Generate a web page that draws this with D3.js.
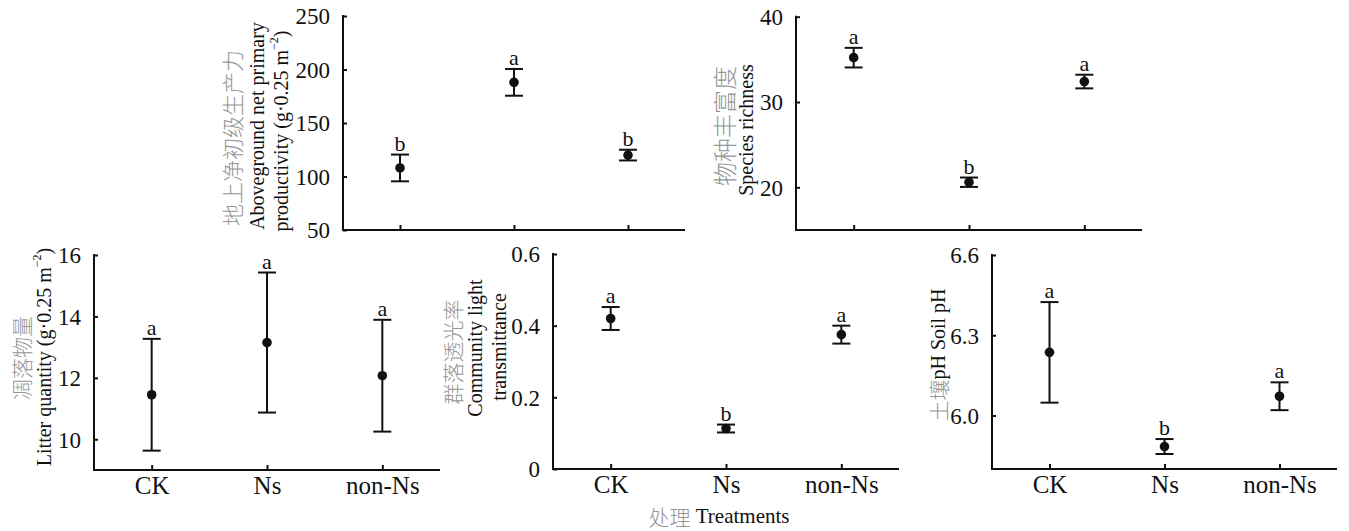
<!DOCTYPE html>
<html><head><meta charset="utf-8">
<script src="https://cdn.jsdelivr.net/npm/d3@7"></script>
<style>
html,body{margin:0;padding:0;background:#fff;}
svg{display:block;}
text{font-family:"Liberation Serif","Times New Roman","DejaVu Serif",serif;fill:#111;}
.cn{font-family:"Noto Sans CJK SC",sans-serif;fill:#959595;font-weight:300;}
</style></head>
<body>
<svg id="chart" width="1349" height="531"></svg>
<script>
// ---- data ----
const categories = ["CK", "Ns", "non-Ns"];

const anppMean = [108, 188, 120];
const anppErr = [12.5, 12.5, 5];
const anppLetters = ["b", "a", "b"];
const anppTicks = [50, 100, 150, 200, 250];

const richMean = [35.2, 20.6, 32.4];
const richErr = [1.15, 0.55, 0.8];
const richLetters = ["a", "b", "a"];
const richTicks = [20, 30, 40];

const litterMean = [11.45, 13.15, 12.07];
const litterErr = [1.82, 2.28, 1.82];
const litterLetters = ["a", "a", "a"];
const litterTicks = [10, 12, 14, 16];

const lightMean = [0.42, 0.113, 0.375];
const lightErr = [0.032, 0.011, 0.025];
const lightLetters = ["a", "b", "a"];
const lightTicks = [0, 0.2, 0.4, 0.6];

const phMean = [6.236, 5.884, 6.072];
const phErr = [0.188, 0.028, 0.052];
const phLetters = ["a", "b", "a"];
const phTicks = [6.0, 6.3, 6.6];

// ---- layout ----
const svg = d3.select("#chart");

const panels = [
  {mean: anppMean, err: anppErr, letters: anppLetters, ticks: anppTicks, domain: [50, 250], fmt: d3.format("d"),
   x0: 343, x1: 685, yTop: 16, yBot: 230, showCats: false,
   label: [
     {parts: [{t: "地上净初级生产力", cn: true}], x: 231, y: 138, fs: 22},
     {parts: [{t: "Aboveground net primary"}], x: 257, y: 126, fs: 20},
     {parts: [{t: "productivity (g·0.25 m"}, {t: "−2", sup: true}, {t: ")"}], x: 281, y: 131, fs: 20}
   ]},
  {mean: richMean, err: richErr, letters: richLetters, ticks: richTicks, domain: [15, 40], fmt: d3.format("d"),
   x0: 796, x1: 1142, yTop: 16.7, yBot: 230, showCats: false,
   label: [
     {parts: [{t: "物种丰富度", cn: true}], x: 723, y: 126, fs: 24},
     {parts: [{t: "Species richness"}], x: 746, y: 130, fs: 20}
   ]},
  {mean: litterMean, err: litterErr, letters: litterLetters, ticks: litterTicks, domain: [9, 16], fmt: d3.format("d"),
   x0: 94, x1: 440, yTop: 255, yBot: 470, showCats: true,
   label: [
     {parts: [{t: "凋落物量", cn: true}], x: 21, y: 358, fs: 21},
     {parts: [{t: "Litter quantity (g·0.25 m"}, {t: "−2", sup: true}, {t: ")"}], x: 44, y: 357, fs: 20}
   ]},
  {mean: lightMean, err: lightErr, letters: lightLetters, ticks: lightTicks, domain: [0, 0.6], fmt: d => d === 0 ? "0" : d3.format(".1f")(d),
   x0: 553, x1: 899, yTop: 254, yBot: 469, showCats: true,
   label: [
     {parts: [{t: "群落透光率", cn: true}], x: 452, y: 352, fs: 21},
     {parts: [{t: "Community light"}], x: 475, y: 348, fs: 20},
     {parts: [{t: "transmittance"}], x: 499, y: 347, fs: 20}
   ]},
  {mean: phMean, err: phErr, letters: phLetters, ticks: phTicks, domain: [5.8, 6.6], fmt: d3.format(".1f"),
   x0: 992, x1: 1337, yTop: 255, yBot: 469, showCats: true,
   label: [
     {parts: [{t: "土壤", cn: true, fs: 21}, {t: "pH Soil pH"}], x: 938, y: 355, fs: 20}
   ]}
];

const ink = "#111";

panels.forEach(p => {
  const x = d3.scalePoint().domain(categories).range([p.x0, p.x1]).padding(0.5);
  const y = d3.scaleLinear().domain(p.domain).range([p.yBot, p.yTop]);
  const g = svg.append("g");

  // y axis (inner ticks)
  const yAxis = d3.axisLeft(y).tickValues(p.ticks).tickSize(-4).tickPadding(13).tickFormat(p.fmt);
  const ya = g.append("g").attr("transform", `translate(${p.x0},0)`).call(yAxis);
  ya.select(".domain").remove();
  ya.selectAll(".tick line").attr("stroke", ink).attr("stroke-width", 2);
  ya.selectAll(".tick text").attr("font-size", 23).attr("fill", ink).attr("dy", "0.34em");
  g.append("line").attr("x1", p.x0).attr("x2", p.x0).attr("y1", y(p.domain[1]) - 1).attr("y2", p.yBot + 1)
    .attr("stroke", ink).attr("stroke-width", 2);

  // x axis (inner ticks)
  const xAxis = d3.axisBottom(x).tickSize(-5).tickPadding(3).tickFormat(p.showCats ? (d => d) : () => "");
  const xa = g.append("g").attr("transform", `translate(0,${p.yBot})`).call(xAxis);
  xa.select(".domain").remove();
  xa.selectAll(".tick line").attr("stroke", ink).attr("stroke-width", 2);
  xa.selectAll(".tick text").attr("font-size", 25).attr("fill", ink).attr("dy", "0.85em");
  g.append("line").attr("x1", p.x0 - 1).attr("x2", p.x1).attr("y1", p.yBot).attr("y2", p.yBot)
    .attr("stroke", ink).attr("stroke-width", 2);

  // error bars
  const cap = 9;
  const rows = categories.map((c, i) => ({c, m: p.mean[i], e: p.err[i], l: p.letters[i]}));
  const eb = g.selectAll(".eb").data(rows).enter().append("g");
  eb.append("line").attr("x1", d => x(d.c)).attr("x2", d => x(d.c))
    .attr("y1", d => y(d.m + d.e)).attr("y2", d => y(d.m - d.e)).attr("stroke", ink).attr("stroke-width", 2);
  eb.append("line").attr("x1", d => x(d.c) - cap).attr("x2", d => x(d.c) + cap)
    .attr("y1", d => y(d.m + d.e)).attr("y2", d => y(d.m + d.e)).attr("stroke", ink).attr("stroke-width", 2);
  eb.append("line").attr("x1", d => x(d.c) - cap).attr("x2", d => x(d.c) + cap)
    .attr("y1", d => y(d.m - d.e)).attr("y2", d => y(d.m - d.e)).attr("stroke", ink).attr("stroke-width", 2);
  eb.append("circle").attr("cx", d => x(d.c)).attr("cy", d => y(d.m)).attr("r", 4.8).attr("fill", ink);
  eb.append("text").attr("x", d => x(d.c)).attr("y", d => y(d.m + d.e) - 4)
    .attr("text-anchor", "middle").attr("font-size", 22).text(d => d.l);

  // y labels
  p.label.forEach(L => {
    const t = g.append("text")
      .attr("transform", `translate(${L.x},${L.y}) rotate(-90)`)
      .attr("text-anchor", "middle").attr("dominant-baseline", "central")
      .attr("font-size", L.fs);
    L.parts.forEach(pt => {
      const ts = t.append("tspan").text(pt.t);
      if (pt.cn) ts.attr("class", "cn").attr("font-size", pt.fs || L.fs);
      if (pt.sup) ts.attr("font-size", 12).attr("baseline-shift", "super");
    });
  });
});

// shared x title
const xt = svg.append("text").attr("x", 719).attr("y", 516).attr("text-anchor", "middle")
  .attr("dominant-baseline", "central").attr("font-size", 21);
xt.append("tspan").attr("class", "cn").text("处理");
xt.append("tspan").text(" Treatments");
</script>
</body></html>
